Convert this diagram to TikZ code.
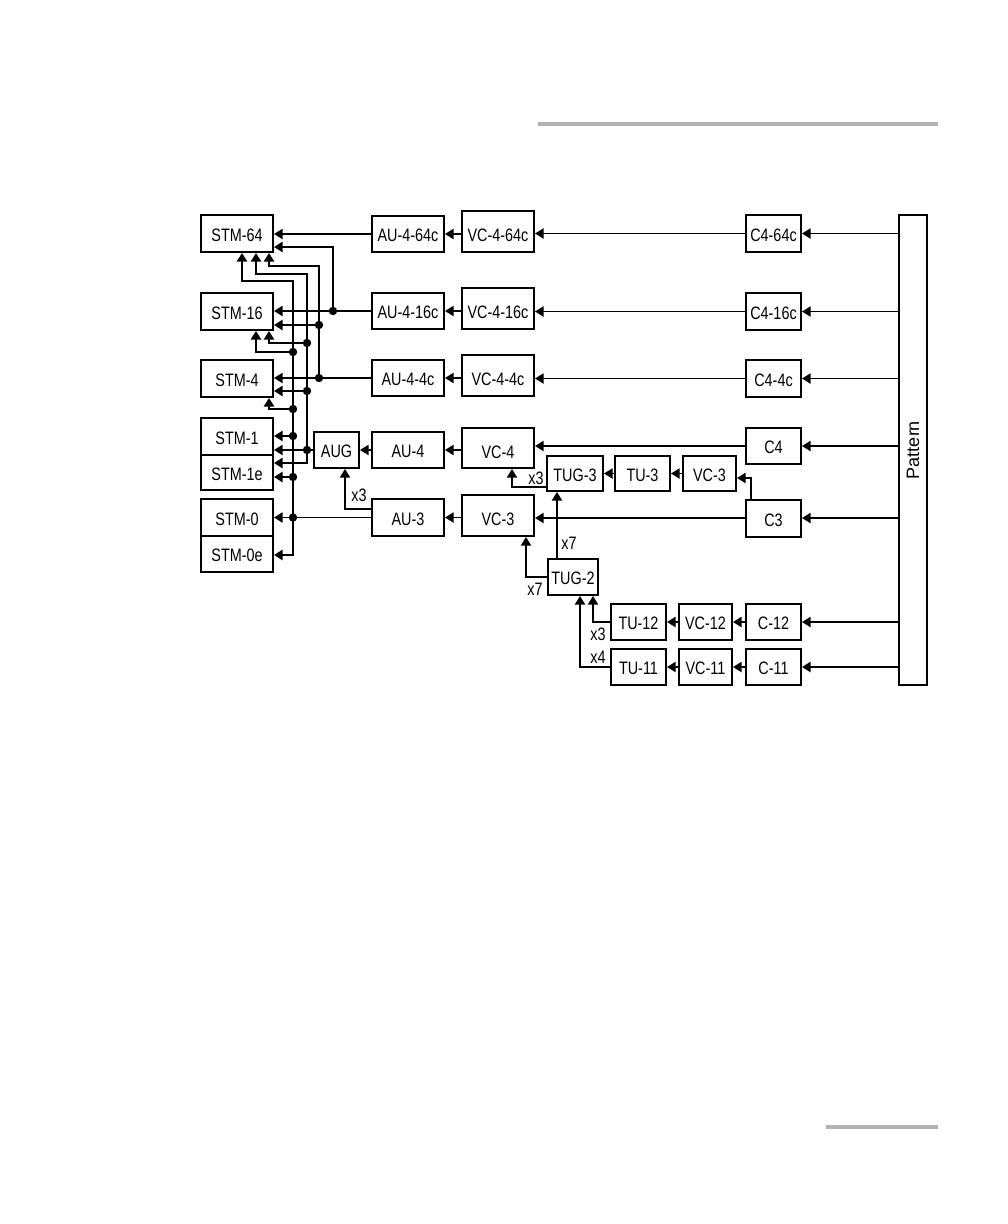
\documentclass[tikz,border=0pt]{standalone}
\usepackage{fontspec}
\usepackage{graphicx}
\setmainfont[FakeStretch=0.8]{Liberation Sans}
\newfontfamily\patfont{Liberation Sans}
\usetikzlibrary{arrows.meta,calc}
\newcommand{\bx}[6]{\node[box, minimum width={(#4-#2)*1pt}, minimum height={(#5-#3)*1pt}] (#1) at ({(#2+#4)/2},{(#3+#5)/2}) {\raisebox{-1.5pt}[\height][\depth]{#6}};}
\newcommand{\vbx}[6]{\node[box, minimum width={(#4-#2)*1pt}, minimum height={(#5-#3)*1pt}] (#1) at ({(#2+#4)/2},{(#3+#5)/2}) {\raisebox{-4pt}[\height][\depth]{#6}};}
\begin{document}
\begin{tikzpicture}[x=1pt,y=-1pt,
  box/.style={draw, line width=2pt, inner sep=0pt, font=\fontsize{18}{18}\selectfont},
  sig/.style={line width=1.8pt},
  bus/.style={line width=2.2pt, line join=miter},
  arr/.style={-{Triangle[length=8.5pt,width=10pt]}},
  arrs/.style={{Triangle[length=8.5pt,width=10pt]}-{Triangle[length=8.5pt,width=10pt]}},
  lbl/.style={font=\fontsize{18}{18}\selectfont, inner sep=0pt}]
\useasboundingbox (0,0) rectangle (1008,1224);
\fill[black!30] (538,122) rectangle (938,126);
\fill[black!30] (826,1125) rectangle (938,1129);
% STM boxes
\bx{STM64}{201}{215}{273}{252}{STM-64}
\bx{STM16}{201}{293}{273}{330}{STM-16}
\bx{STM4}{201}{360}{273}{397}{STM-4}
\bx{STM1}{201}{418}{273}{455}{STM-1}
\bx{STM1e}{201}{455}{273}{490}{STM-1e}
\bx{STM0}{201}{499}{273}{536}{STM-0}
\bx{STM0e}{201}{536}{273}{572}{STM-0e}
% AU / VC / C rows
\bx{AU464}{372}{216}{444}{252}{AU-4-64c}
\vbx{VC464}{462}{211}{534}{252}{VC-4-64c}
\bx{C464}{746}{215}{801}{252}{C4-64c}
\bx{AU416}{372}{293}{444}{329}{AU-4-16c}
\vbx{VC416}{462}{288}{534}{329}{VC-4-16c}
\bx{C416}{746}{293}{801}{330}{C4-16c}
\bx{AU44}{372}{360}{444}{396}{AU-4-4c}
\vbx{VC44}{462}{355}{534}{396}{VC-4-4c}
\bx{C44}{746}{360}{801}{397}{C4-4c}
\bx{AUG}{314}{432}{359}{468}{AUG}
\bx{AU4}{372}{432}{444}{468}{AU-4}
\vbx{VC4}{462}{428}{534}{468}{VC-4}
\bx{C4}{746}{428}{801}{464}{C4}
\bx{TUG3}{547}{456}{603}{491}{TUG-3}
\bx{TU3}{615}{456}{670}{491}{TU-3}
\bx{VC3U}{683}{456}{736}{491}{VC-3}
\bx{AU3}{372}{499}{444}{536}{AU-3}
\vbx{VC3L}{462}{495}{534}{536}{VC-3}
\bx{C3}{746}{500}{801}{537}{C3}
\bx{TUG2}{548}{559}{598}{595}{TUG-2}
\bx{TU12}{611}{604}{666}{640}{TU-12}
\bx{VC12}{679}{604}{732}{640}{VC-12}
\bx{C12}{746}{604}{801}{640}{C-12}
\bx{TU11}{611}{649}{666}{685}{TU-11}
\bx{VC11}{679}{649}{732}{685}{VC-11}
\bx{C11}{746}{649}{801}{685}{C-11}
\node[box, minimum width=28pt, minimum height=470pt] (pat) at (913,450) {\rotatebox{90}{\patfont\fontsize{18}{18}\selectfont Pattern}};
% Pattern to C boxes
\foreach \c in {C464,C416,C44,C4,C12,C11}
  \draw[sig,arr] (pat.west |- \c.east) -- (\c.east);
\draw[sig,arr] (pat.west |- 0,518) -- (C3.east |- 0,518);
% rows
\draw[sig,arr] (C464.west) -- (C464.west -| VC464.east);
\draw[sig,arr] (VC464.west |- AU464.east) -- (AU464.east);
\draw[sig,arr] (C416.west) -- (C416.west -| VC416.east);
\draw[sig,arr] (VC416.west |- AU416.east) -- (AU416.east);
\draw[sig,arr] (C44.west) -- (C44.west -| VC44.east);
\draw[sig,arr] (VC44.west |- AU44.east) -- (AU44.east);
\draw[sig,arr] (C4.west |- 0,446) -- (VC4.east |- 0,446);
\draw[sig,arr] (VC4.west |- AU4.east) -- (AU4.east);
\draw[sig,arr] (AU4.west) -- (AUG.east);
\draw[sig,arr] (C3.west |- 0,518) -- (VC3L.east |- 0,518);
\draw[sig,arr] (VC3L.west |- AU3.east) -- (AU3.east);
\draw[sig,arr] (751,0 |- C3.north) -- (751,478) -- (VC3U.east |- 0,478);
\draw[sig,arr] (VC3U.west) -- (TU3.east);
\draw[sig,arr] (TU3.west) -- (TUG3.east);
\draw[sig,arr] (TUG3.west |- 0,487) -- (512,487) -- (512,0 |- VC4.south);
\draw[sig,arr] (557,0 |- TUG2.north) -- (557,0 |- TUG3.south);
\draw[sig,arr] (TUG2.west) -- (526,0 |- TUG2.west) -- (526,0 |- VC3L.south);
\draw[sig,arr] (C12.west) -- (VC12.east);
\draw[sig,arr] (VC12.west) -- (TU12.east);
\draw[sig,arr] (TU12.west) -- (593,0 |- TU12.west) -- (593,0 |- TUG2.south);
\draw[sig,arr] (C11.west) -- (VC11.east);
\draw[sig,arr] (VC11.west) -- (TU11.east);
\draw[sig,arr] (TU11.west) -- (580,0 |- TU11.west) -- (580,0 |- TUG2.south);
\draw[sig,arr] (AU3.west |- 0,509) -- (345,509) -- (345,0 |- AUG.south);
% labels
\node[lbl] (l1) at (359,495) {x3};
\node[lbl] (l2) at (536,478) {x3};
\node[lbl] (l3) at (569,543) {x7};
\node[lbl] (l4) at (535,589) {x7};
\node[lbl] (l5) at (598,634) {x3};
\node[lbl] (l6) at (598,657) {x4};
% outputs to STM
\draw[sig,arr] (AU464.west) -- (AU464.west -| STM64.east);
\draw[sig,arr] (AU416.west) -- (AU416.west -| STM16.east);
\draw[sig,arr] (AU44.west) -- (AU44.west -| STM4.east);
\draw[sig,arr] (AUG.west) -- (AUG.west -| STM1.east);
\draw[sig,arr] (AU3.west) -- (AU3.west -| STM0.east);
% bus d (AU-4-16c)
\draw[bus,arr] (333,0 |- AU416.west) -- (333,247) -- (STM64.east |- 0,247);
% bus c (AU-4-4c)
\draw[bus,arr] (319,0 |- AU44.west) -- (319,266) -- (269,266) -- (269,0 |- STM64.south);
\draw[bus,arr] (319,325) -- (STM16.east |- 0,325);
% bus b (AUG)
\draw[bus,arrs] (256,0 |- STM64.south) -- (256,274) -- (307,274) -- (307,463) -- (STM1e.east |- 0,463);
\draw[bus,arr] (307,343) -- (269,343) -- (269,0 |- STM16.south);
\draw[bus,arr] (307,391) -- (STM4.east |- 0,391);
% bus a (AU-3)
\draw[bus,arrs] (242,0 |- STM64.south) -- (242,281) -- (293,281) -- (293,555) -- (STM0e.east |- 0,555);
\draw[bus,arr] (293,352) -- (256,352) -- (256,0 |- STM16.south);
\draw[bus,arr] (293,409) -- (269,409) -- (269,0 |- STM4.south);
\draw[bus,arr] (293,436) -- (STM1.east |- 0,436);
\draw[bus,arr] (293,477) -- (STM1e.east |- 0,477);
% dots
\foreach \p in {(333,311),(319,325),(319,378),(307,343),(307,391),(307,450),(293,352),(293,409),(293,436),(293,477),(293,517.5)}
  \fill \p circle[radius=4.2pt];
\end{tikzpicture}
\end{document}
